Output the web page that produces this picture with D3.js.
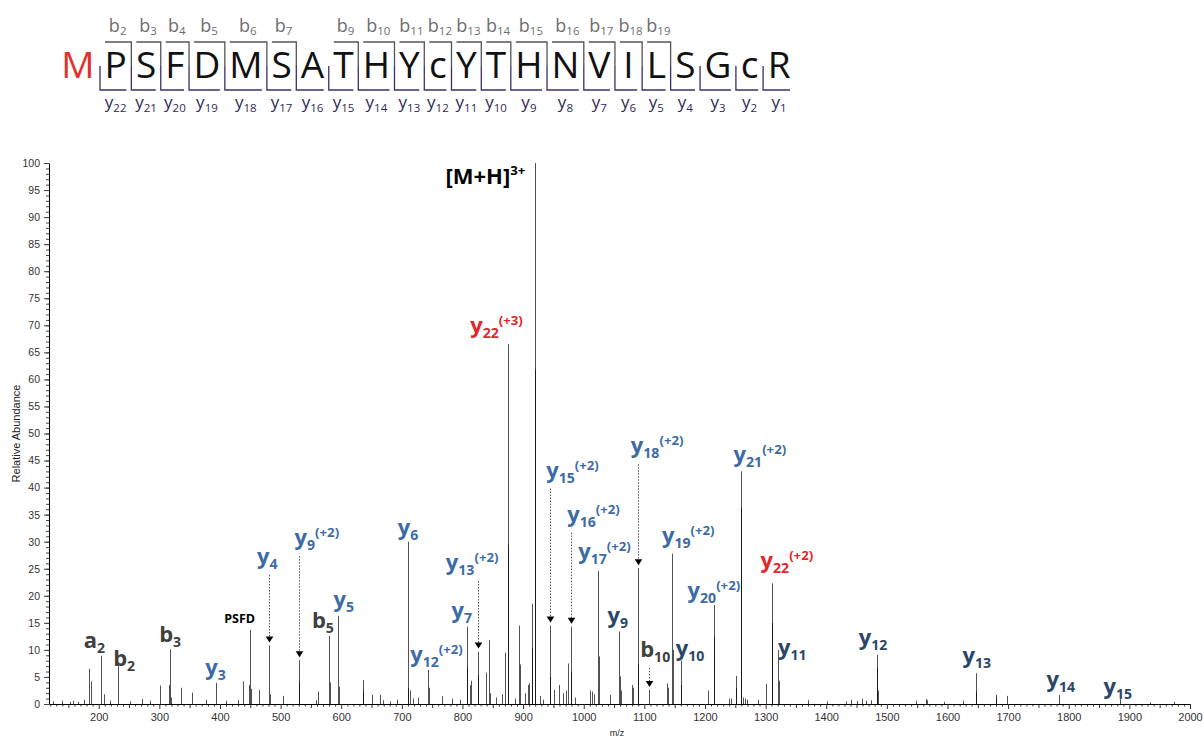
<!DOCTYPE html>
<html>
<head>
<meta charset="utf-8">
<script src="https://cdn.jsdelivr.net/npm/d3@7"></script>
<style>
  body { margin: 0; background: #fff; }
  svg { display: block; }
</style>
</head>
<body>
<svg id="chart" width="1204" height="738"></svg>
<script>
// ---- Peptide sequence and observed fragment coverage ----
const residues = ["M","P","S","F","D","M","S","A","T","H","Y","c","Y","T","H","N","V","I","L","S","G","c","R"];
const bIonNumbers = [2,3,4,5,6,7,9,10,11,12,13,14,15,16,17,18,19];
const yIonNumbers = [22,21,20,19,18,17,16,15,14,13,12,11,10,9,8,7,6,5,4,3,2,1];

// ---- MS/MS spectrum: centroid m/z and relative abundance (%) ----
const peakMz = [
  125.1, 138.9, 152.6, 158.1, 165.8, 175.7, 184.0, 186.8, 203.3, 209.2,
  218.6, 231.8, 251.6, 270.9, 284.6, 300.6, 315.9, 318.1, 319.1, 335.2,
  353.4, 376.9, 393.9, 409.9, 429.7, 438.0, 447.9, 450.0, 451.0, 464.9,
  481.4, 482.4, 504.4, 530.3, 530.8, 557.9, 562.2, 580.3, 581.3, 594.7,
  595.7, 635.4, 636.4, 650.7, 663.9, 669.4, 680.4, 692.0, 709.6, 710.6,
  713.4, 718.4, 726.6, 743.6, 744.1, 765.7, 782.7, 795.9, 807.0, 808.0,
  812.4, 814.0, 825.1, 825.6, 838.3, 843.2, 845.4, 855.3, 864.7, 870.1,
  875.6, 875.9, 886.6, 893.7, 894.2, 903.1, 907.5, 910.2, 914.1, 914.6,
  919.6, 919.9, 927.8, 932.8, 944.3, 944.8, 951.4, 959.2, 965.8, 970.7,
  974.5, 979.0, 979.5, 985.6, 1010.3, 1013.6, 1016.9, 1024.0, 1024.5, 1043.3,
  1058.1, 1059.1, 1061.4, 1079.1, 1081.7, 1089.0, 1089.5, 1108.1, 1136.8, 1139.4,
  1146.0, 1146.5, 1159.9, 1160.9, 1205.3, 1214.8, 1215.3, 1239.2, 1242.2, 1250.8,
  1251.3, 1259.3, 1259.8, 1262.6, 1265.9, 1269.2, 1286.7, 1300.7, 1310.5, 1311.0,
  1321.2, 1322.2, 1370.2, 1401.5, 1432.5, 1440.8, 1450.2, 1458.9, 1465.0, 1473.8,
  1483.2, 1483.7, 1485.3, 1547.5, 1564.5, 1566.1, 1594.2, 1625.5, 1646.5, 1647.5,
  1679.5, 1680.5, 1697.6, 1783.9, 1884.5, 1934.0, 1973.5
];
const peakIntensity = [
  0.5, 0.6, 0.4, 0.6, 0.4, 0.8, 6.5, 4.2, 8.9, 1.8,
  0.6, 7.6, 0.5, 0.9, 0.6, 3.4, 3.5, 10.1, 1.2, 3.0,
  2.1, 0.8, 3.9, 0.6, 0.7, 4.2, 3.5, 13.7, 2.8, 2.6,
  10.8, 1.8, 1.5, 8.1, 4.2, 0.7, 2.3, 12.6, 4.0, 16.3,
  3.2, 4.4, 2.4, 1.7, 1.7, 0.7, 0.5, 0.8, 30.0, 3.0,
  2.5, 1.0, 1.2, 6.3, 3.0, 1.4, 1.0, 0.8, 14.3, 6.9,
  3.5, 4.3, 9.7, 5.4, 5.8, 11.8, 2.0, 1.2, 1.8, 9.5,
  66.5, 29.4, 1.0, 14.5, 7.3, 2.0, 3.5, 3.8, 18.5, 10.2,
  100.0, 61.8, 1.5, 0.8, 14.5, 5.0, 2.6, 3.5, 2.0, 2.5,
  7.5, 14.3, 6.0, 1.2, 2.5, 2.3, 1.8, 24.6, 8.8, 1.7,
  13.4, 5.1, 2.5, 3.5, 3.0, 25.1, 7.3, 2.6, 3.8, 3.0,
  27.8, 10.0, 8.0, 3.5, 2.5, 18.3, 12.3, 1.0, 1.0, 5.2,
  3.0, 43.0, 36.3, 1.2, 1.0, 0.8, 0.8, 3.7, 22.3, 15.0,
  10.0, 4.3, 0.7, 0.5, 0.5, 0.8, 0.6, 1.0, 0.6, 0.7,
  9.1, 6.7, 2.5, 0.6, 0.9, 0.7, 0.4, 0.6, 5.7, 2.3,
  1.7, 1.2, 1.5, 1.7, 0.9, 0.3, 0.4
];

// ---- Axis ticks ----
const xTickLabels = [200,300,400,500,600,700,800,900,1000,1100,1200,1300,1400,1500,1600,1700,1800,1900,2000];
const yTickLabels = [0,5,10,15,20,25,30,35,40,45,50,55,60,65,70,75,80,85,90,95,100];

// ---- Fragment assignments (ion, subscript, charge note, colour group, peak m/z) ----
const annotations = [
  { base: "a", sub: "2",  sup: "",     tone: "frag",  mz: 203.3 },
  { base: "b", sub: "2",  sup: "",     tone: "frag",  mz: 231.8 },
  { base: "b", sub: "3",  sup: "",     tone: "frag",  mz: 318.1 },
  { base: "y", sub: "3",  sup: "",     tone: "blue",  mz: 393.9 },
  { base: "PSFD", sub: "", sup: "",    tone: "small", mz: 450.0 },
  { base: "y", sub: "4",  sup: "",     tone: "blue",  mz: 481.4 },
  { base: "y", sub: "9",  sup: "(+2)", tone: "blue",  mz: 530.3 },
  { base: "b", sub: "5",  sup: "",     tone: "frag",  mz: 580.3 },
  { base: "y", sub: "5",  sup: "",     tone: "blue",  mz: 594.7 },
  { base: "y", sub: "6",  sup: "",     tone: "blue",  mz: 709.6 },
  { base: "y", sub: "12", sup: "(+2)", tone: "blue",  mz: 743.6 },
  { base: "y", sub: "7",  sup: "",     tone: "blue",  mz: 807.0 },
  { base: "y", sub: "13", sup: "(+2)", tone: "blue",  mz: 825.1 },
  { base: "y", sub: "22", sup: "(+3)", tone: "red",   mz: 875.6 },
  { base: "[M+H]", sub: "", sup: "3+", tone: "black", mz: 919.6 },
  { base: "y", sub: "15", sup: "(+2)", tone: "blue",  mz: 944.3 },
  { base: "y", sub: "16", sup: "(+2)", tone: "blue",  mz: 979.0 },
  { base: "y", sub: "17", sup: "(+2)", tone: "blue",  mz: 1024.0 },
  { base: "y", sub: "9",  sup: "",     tone: "navy",  mz: 1058.1 },
  { base: "y", sub: "18", sup: "(+2)", tone: "blue",  mz: 1089.0 },
  { base: "b", sub: "10", sup: "",     tone: "frag",  mz: 1108.1 },
  { base: "y", sub: "19", sup: "(+2)", tone: "blue",  mz: 1146.0 },
  { base: "y", sub: "10", sup: "",     tone: "navy",  mz: 1159.9 },
  { base: "y", sub: "20", sup: "(+2)", tone: "blue",  mz: 1214.8 },
  { base: "y", sub: "21", sup: "(+2)", tone: "blue",  mz: 1259.3 },
  { base: "y", sub: "22", sup: "(+2)", tone: "red",   mz: 1310.5 },
  { base: "y", sub: "11", sup: "",     tone: "navy",  mz: 1321.2 },
  { base: "y", sub: "12", sup: "",     tone: "navy",  mz: 1483.2 },
  { base: "y", sub: "13", sup: "",     tone: "navy",  mz: 1646.5 },
  { base: "y", sub: "14", sup: "",     tone: "navy",  mz: 1783.9 },
  { base: "y", sub: "15", sup: "",     tone: "navy",  mz: 1884.5 }
];

// Label placement relative to the top of its peak: [dx, dy, arrow]
const labelPlacement = [
  [-17.7, -8, 0], [-5.3, 2.8, 0], [-11.3, -7.6, 0], [-11.3, -7.9, 0], [-26.3, -7, 0],
  [-12.6, -81.6, 1], [-5, -115, 1], [-17.6, -7.8, 0], [-5, -9, 0], [-10.7, -6.7, 0],
  [-18.3, -8.2, 0], [-16, -8.3, 0], [-32.7, -81.5, 1], [-38.3, -11, 0], [-90, 21, 0],
  [-4.3, -148, 1], [-4.3, -105, 1], [-20.3, -11.6, 0], [-12, -8.8, 0], [-7.7, -115, 1],
  [-9.3, -33, 1], [-10.6, -10.3, 0], [-5.7, -4.7, 0], [-27, -7, 0], [-8, -9.4, 0],
  [-12, -15.3, 0], [-0.5, 5, 0], [-18.7, -9.8, 0], [-14, -10, 0], [-13, -7.5, 0],
  [-17, -5, 0]
];

const toneColor = {
  frag: "#404040", blue: "#3c6ba6", navy: "#2b4669", red: "#e3262b", black: "#000", small: "#000"
};

const svg = d3.select("#chart");
const axisFont = "'Liberation Sans', Arial, sans-serif";
const labelFont = "'Open Sans', 'Noto Sans', sans-serif";

// ---- Scales ----
const x = d3.scaleLinear().domain([118, 2000]).range([49, 1190]);
const y = d3.scaleLinear().domain([0, 100]).range([704, 163]);

// ---- Axes ----
const xMinor = d3.range(120, 2001, 10).filter(v => v % 50 !== 0);
const xMid = d3.range(150, 2001, 100);

const gx = svg.append("g").attr("transform", `translate(0,${y(0)})`);
gx.append("g").call(d3.axisBottom(x).tickValues(xMinor).tickSize(2.5).tickFormat(""))
  .call(g => g.select(".domain").remove());
gx.append("g").call(d3.axisBottom(x).tickValues(xMid).tickSize(4).tickFormat(""))
  .call(g => g.select(".domain").remove());
gx.append("g").call(d3.axisBottom(x).tickValues(xTickLabels).tickSize(5).tickPadding(4).tickSizeOuter(0)
    .tickFormat(d3.format("d")))
  .call(g => g.selectAll("text").attr("font-family", axisFont).attr("font-size", 11).attr("fill", "#333"));
gx.selectAll("line").attr("stroke", "#333");
gx.selectAll(".domain").attr("stroke", "#000");

const gy = svg.append("g").attr("transform", `translate(${x.range()[0]},0)`);
gy.append("g").call(d3.axisLeft(y).tickValues(d3.range(0, 101, 1)).tickSize(3).tickFormat(""))
  .call(g => g.select(".domain").remove());
gy.append("g").call(d3.axisLeft(y).tickValues(yTickLabels).tickSize(5).tickPadding(4).tickSizeOuter(0))
  .call(g => g.selectAll("text").attr("font-family", axisFont).attr("font-size", 10.5).attr("fill", "#333"));
gy.selectAll("line").attr("stroke", "#444");
gy.selectAll(".domain").attr("stroke", "#000");

svg.append("text")
  .attr("transform", `translate(20,${y(50)}) rotate(-90)`)
  .attr("text-anchor", "middle")
  .attr("font-family", axisFont).attr("font-size", 11).attr("fill", "#222")
  .text("Relative Abundance");

svg.append("text")
  .attr("x", 617).attr("y", 736)
  .attr("text-anchor", "middle")
  .attr("font-family", axisFont).attr("font-size", 9).attr("fill", "#222")
  .text("m/z");

// ---- Spectrum sticks ----
svg.append("g")
  .selectAll("line")
  .data(peakMz)
  .join("line")
  .attr("x1", d => Math.round(x(d)) + 0.5)
  .attr("x2", d => Math.round(x(d)) + 0.5)
  .attr("y1", y(0))
  .attr("y2", (d, i) => y(peakIntensity[i]))
  .attr("stroke", "#000")
  .attr("stroke-opacity", 0.68)
  .attr("stroke-width", 1);

// ---- Fragment labels ----
function ionText(sel, a, fs) {
  sel.append("tspan").attr("font-size", fs).text(a.base);
  if (a.sub) sel.append("tspan").attr("font-size", fs * 0.64).attr("dy", 5).text(a.sub);
  if (a.sup) sel.append("tspan").attr("font-size", fs * 0.6).attr("dy", a.sub ? -13 : -9).text(a.sup);
}

const labelLayer = svg.append("g").attr("font-family", labelFont).attr("font-weight", 700);
const arrowLayer = svg.append("g");

annotations.forEach((a, i) => {
  const pi = d3.minIndex(peakMz, m => Math.abs(m - a.mz));
  const px = Math.round(x(peakMz[pi])) + 0.5;
  const top = y(peakIntensity[pi]);
  const [dx, dy, arrow] = labelPlacement[i];
  const baseY = top + dy;
  const fs = a.tone === "small" ? 12.5 : a.tone === "black" ? 22 : 22;
  const t = labelLayer.append("text")
    .attr("x", px + dx).attr("y", baseY)
    .attr("fill", toneColor[a.tone]);
  ionText(t, a, fs);

  if (arrow) {
    const tip = top - 3;
    arrowLayer.append("line")
      .attr("x1", px).attr("x2", px)
      .attr("y1", baseY + 11).attr("y2", tip - 5)
      .attr("stroke", "#555").attr("stroke-width", 1)
      .attr("stroke-dasharray", "1.5,1.5");
    arrowLayer.append("path")
      .attr("d", `M${px - 3.8},${tip - 6}L${px + 3.8},${tip - 6}L${px},${tip}Z`)
      .attr("fill", "#000");
  }
});

// ---- Sequence coverage map ----
const seq = svg.append("g").attr("font-family", labelFont);
const seqSize = 37;
const probe = seq.append("text").attr("font-size", seqSize);
const boxWidths = residues.slice(1).map(r => {
  probe.text(r);
  return Math.max(probe.node().getComputedTextLength(), 18) + 10;
});
probe.remove();
const cum = d3.cumsum(boxWidths);
const boxX = d3.scaleLinear().domain([0, cum[cum.length - 1]]).range([100, 795]);
const boxes = boxWidths.map((w, i) => ({
  left: boxX(i ? cum[i - 1] : 0),
  right: boxX(cum[i])
}));

const topY = 42, midY = 66, botY = 90;

// residue letters
seq.append("text")
  .attr("x", boxes[0].left - 22).attr("y", 78)
  .attr("text-anchor", "middle").attr("font-size", seqSize).attr("fill", "#e2312d")
  .text(residues[0]);
seq.selectAll("text.res")
  .data(residues.slice(1))
  .join("text")
  .attr("class", "res")
  .attr("x", (d, i) => (boxes[i].left + boxes[i].right) / 2)
  .attr("y", 78)
  .attr("text-anchor", "middle")
  .attr("font-size", seqSize)
  .attr("fill", "#111")
  .text(d => d);

// b-ion brackets and labels
bIonNumbers.forEach(n => {
  const b = boxes[n - 2];
  seq.append("path")
    .attr("d", `M${b.left + 5},${topY}H${b.right}V${midY}`)
    .attr("fill", "none").attr("stroke", "#555").attr("stroke-width", 1.3);
  const t = seq.append("text")
    .attr("x", (b.left + b.right) / 2 + 2).attr("y", 32)
    .attr("text-anchor", "middle").attr("fill", "#6e6e6e");
  t.append("tspan").attr("font-size", 18).text("b");
  t.append("tspan").attr("font-size", 11.5).attr("dy", 3).text(n);
});

// y-ion brackets and labels
yIonNumbers.forEach(n => {
  const b = boxes[22 - n];
  seq.append("path")
    .attr("d", `M${b.left},${midY}V${botY}H${b.right - 5}`)
    .attr("fill", "none").attr("stroke", "#3a3068").attr("stroke-width", 1.3);
  const t = seq.append("text")
    .attr("x", (b.left + b.right) / 2).attr("y", 107.5)
    .attr("text-anchor", "middle").attr("fill", "#2f2857");
  t.append("tspan").attr("font-size", 17).text("y");
  t.append("tspan").attr("font-size", 11.5).attr("dy", 4).text(n);
});
</script>
</body>
</html>
